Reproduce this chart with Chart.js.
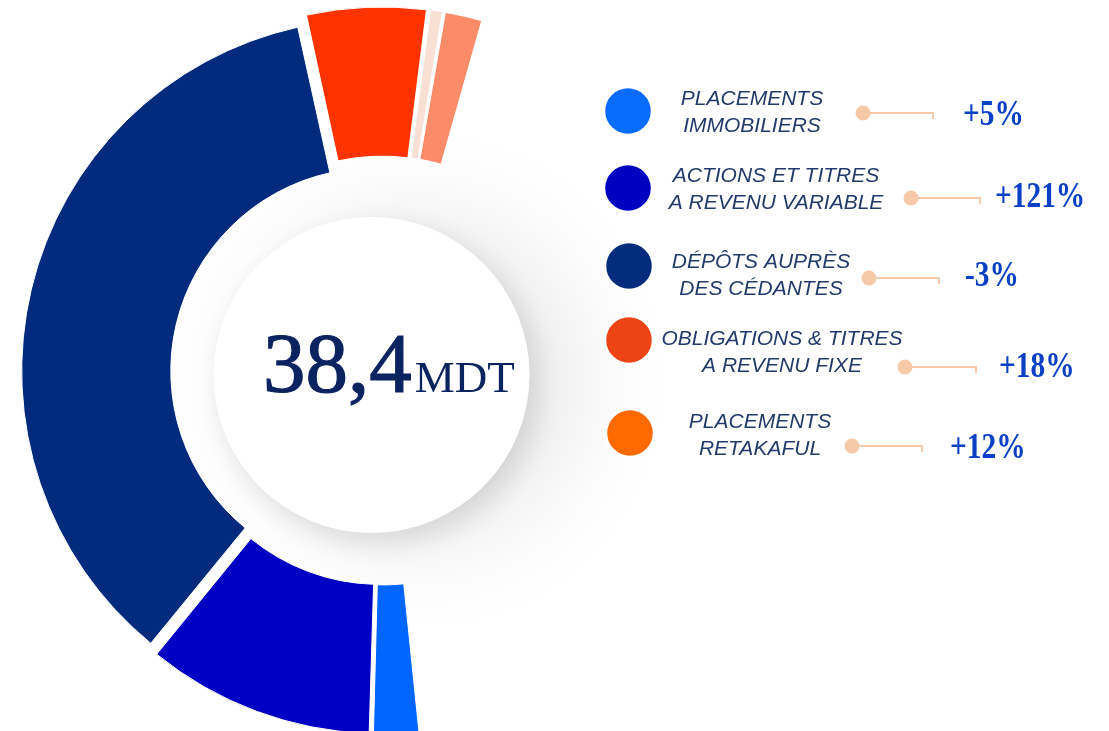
<!DOCTYPE html>
<html>
<head>
<meta charset="utf-8">
<title>Placements</title>
<script src="https://cdn.jsdelivr.net/npm/chart.js@4.4.0/dist/chart.umd.min.js"></script>
<style>
    html, body { margin: 0; padding: 0; background: #ffffff; }
    #wrap { position: relative; width: 1109px; height: 731px; }
</style>
</head>
<body>
<div id="wrap"><canvas id="myChart"></canvas></div>
<script>
// slices of the ring, in MDT
const sliceLabels = ['PLACEMENTS IMMOBILIERS', 'ACTIONS ET TITRES A REVENU VARIABLE', 'DÉPÔTS AUPRÈS DES CÉDANTES',
    'OBLIGATIONS & TITRES A REVENU FIXE', 'AUTRES', 'PLACEMENTS RETAKAFUL'];
const sliceValues = [1.45, 7.15, 24.4, 3.75, 0.44, 1.21];
const sliceColors = ['#0066ff', '#0000c4', '#022b7e', '#ff3300', '#f8e0d4', '#fb8b69'];
// how far each slice is pulled out of the ring, px
const slicePush = [11, 11, 11, 16, 16, 16];

const totalLabel = '38,4';
const totalUnit = 'MDT';

// legend on the right
const legendLines = [
    ['PLACEMENTS', 'IMMOBILIERS'],
    ['ACTIONS ET TITRES', 'A REVENU VARIABLE'],
    ['DÉPÔTS AUPRÈS', 'DES CÉDANTES'],
    ['OBLIGATIONS & TITRES', 'A REVENU FIXE'],
    ['PLACEMENTS', 'RETAKAFUL']
];
const legendColors = ['#0a6cff', '#0000c0', '#032c7d', '#ec4415', '#ff6a00'];
const growth = ['+5%', '+121%', '-3%', '+18%', '+12%'];

// where each legend row sits
const rowLayout = [
    { cy: 111, cx: 628, textX: 752, base: 105, dotX: 863, dotY: 113, endX: 933, pctX: 963, pctY: 125 },
    { cy: 188, cx: 628, textX: 776, base: 182, dotX: 911, dotY: 198, endX: 980, pctX: 995, pctY: 207 },
    { cy: 266, cx: 629, textX: 761, base: 268, dotX: 869, dotY: 278, endX: 939, pctX: 965, pctY: 286 },
    { cy: 340, cx: 629, textX: 782, base: 345, dotX: 905, dotY: 367, endX: 976, pctX: 999, pctY: 377 },
    { cy: 433, cx: 630, textX: 760, base: 428, dotX: 852, dotY: 446, endX: 922, pctX: 950, pctY: 458 }
];

const ARC_SWEEP = 202;   // degrees covered by the ring

// ArcElement moves a slice by offset/4 * (2 - sin(sweep)), so
// work back the option value that gives the wanted push
const sliceTotal = sliceValues.reduce((a, b) => a + b, 0);
const sliceOffsets = sliceValues.map((v, i) => {
    const sweep = v / sliceTotal * ARC_SWEEP * Math.PI / 180;
    const fix = 1 - Math.sin(Math.min(Math.PI, sweep));
    return 4 * slicePush[i] / (1 + fix);
});

// white disk with a soft shadow and the total in the middle
const centerDisk = {
    id: 'centerDisk',
    beforeDatasetsDraw(chart) {
        const ctx = chart.ctx;
        const disk = (color, blur, dx, dy) => {
            ctx.save();
            ctx.shadowColor = color;
            ctx.shadowBlur = blur;
            ctx.shadowOffsetX = dx;
            ctx.shadowOffsetY = dy;
            ctx.fillStyle = '#ffffff';
            ctx.beginPath();
            ctx.arc(371.5, 375, 158, 0, Math.PI * 2);
            ctx.fill();
            ctx.restore();
        };
        disk('rgba(0, 0, 0, 0.10)', 110, 45, 5);
        disk('rgba(0, 0, 0, 0.12)', 30, 8, 10);

        ctx.save();
        ctx.fillStyle = '#0b2460';
        ctx.strokeStyle = '#0b2460';
        ctx.lineWidth = 1.2;
        ctx.textBaseline = 'alphabetic';
        ctx.textAlign = 'left';
        ctx.font = '85px "Liberation Serif"';
        ctx.fillText(totalLabel, 263, 392);
        ctx.strokeText(totalLabel, 263, 392);
        const w = ctx.measureText(totalLabel).width;
        ctx.font = '45px "Liberation Serif"';
        ctx.fillText(totalUnit, 263 + w + 3, 392);
        ctx.restore();
    }
};

const sideLegend = {
    id: 'sideLegend',
    afterDraw(chart) {
        const ctx = chart.ctx;
        ctx.save();
        rowLayout.forEach((row, i) => {
            // colour dot
            ctx.fillStyle = legendColors[i];
            ctx.strokeStyle = '#ffffff';
            ctx.lineWidth = 1.5;
            ctx.beginPath();
            ctx.arc(row.cx, row.cy, 23.5, 0, Math.PI * 2);
            ctx.fill();
            ctx.stroke();

            // two line label
            ctx.fillStyle = '#213a6b';
            ctx.font = 'italic 21px "Liberation Sans"';
            ctx.textAlign = 'center';
            ctx.textBaseline = 'alphabetic';
            ctx.fillText(legendLines[i][0], row.textX, row.base);
            ctx.fillText(legendLines[i][1], row.textX, row.base + 27);

            // connector
            ctx.strokeStyle = '#f6caa8';
            ctx.fillStyle = '#f6caa8';
            ctx.lineWidth = 2;
            ctx.beginPath();
            ctx.moveTo(row.dotX, row.dotY);
            ctx.lineTo(row.endX, row.dotY);
            ctx.lineTo(row.endX, row.dotY + 6);
            ctx.stroke();
            ctx.beginPath();
            ctx.arc(row.dotX, row.dotY, 7.5, 0, Math.PI * 2);
            ctx.fill();

            // growth figure
            ctx.save();
            ctx.translate(row.pctX, row.pctY);
            ctx.scale(0.84, 1);
            ctx.fillStyle = '#0a40c6';
            ctx.font = 'bold 35px "Liberation Serif"';
            ctx.textAlign = 'left';
            ctx.fillText(growth[i], 0, 0);
            ctx.restore();
        });
        ctx.restore();
    }
};

const ctx = document.getElementById('myChart').getContext('2d');
const myChart = new Chart(ctx, {
    type: 'doughnut',
    data: {
        labels: sliceLabels,
        datasets: [
            {
                data: sliceValues,
                backgroundColor: sliceColors,
                borderColor: '#ffffff',
                borderWidth: 1,
                offset: sliceOffsets,
                hoverOffset: 0
            }
        ]
    },
    options: {
        responsive: true,
        maintainAspectRatio: false,
        animation: false,
        rotation: 174,
        circumference: ARC_SWEEP,
        radius: 350,
        cutout: '57.4%',
        layout: {
            padding: { top: 15, bottom: 0, left: 0, right: 597.6 }
        },
        events: [],
        plugins: {
            legend: { display: false },
            tooltip: { enabled: false }
        }
    },
    plugins: [centerDisk, sideLegend]
});
</script>
</body>
</html>
